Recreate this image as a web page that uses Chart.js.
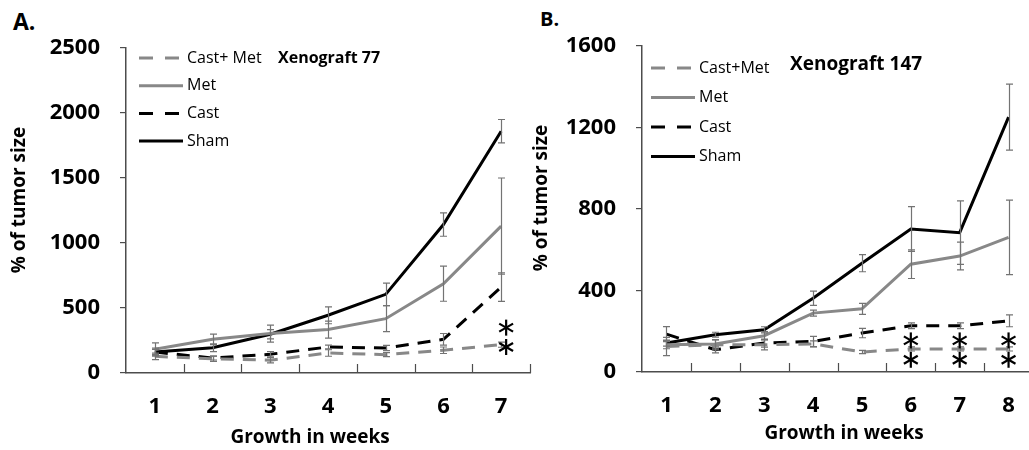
<!DOCTYPE html>
<html lang="en">
<head>
<meta charset="UTF-8">
<title>Xenograft growth</title>
<script src="https://cdn.jsdelivr.net/npm/chart.js@4.4.0/dist/chart.umd.min.js"></script>
<style>
    body { margin: 0; width: 1029px; height: 450px; overflow: hidden; background: #fff; position: relative; font-family: "Open Sans", sans-serif; }
    .panel { position: absolute; top: 0; height: 450px; }
    #boxA { left: 0; width: 540px; }
    #boxB { left: 520px; width: 530px; }
    .letter { position: absolute; font-weight: bold; font-family: "Open Sans", sans-serif; line-height: 1.2; }
</style>
</head>
<body>
<div class="letter" style="left:13px; top:8px; font-size:23px">A.</div>
<div class="letter" style="left:540px; top:7px; font-size:20px">B.</div>
<div id="boxA" class="panel"><canvas id="chartA"></canvas></div>
<div id="boxB" class="panel"><canvas id="chartB"></canvas></div>

<script>
// Xenograft 77 (panel A)
var weeksA = ['1', '2', '3', '4', '5', '6', '7'];
var castMetA = [128, 110, 98, 154, 141, 175, 218];
var castMetErrA = [25, 20, 20, 25, 15, 25, 20];
var metA = [182, 259, 303, 334, 418, 687, 1130];
var metErrA = [50, 40, 65, 65, 100, 135, 370];
var castA = [161, 115, 144, 200, 192, 259, 661];
var castErrA = [20, 15, 20, 15, 20, 45, 110];
var shamA = [161, 195, 298, 444, 605, 1142, 1860];
var shamErrA = [30, 30, 35, 65, 87, 90, 90];
var starsA = [{ week: 6, values: [349, 200] }];

// Xenograft 147 (panel B)
var weeksB = ['1', '2', '3', '4', '5', '6', '7', '8'];
var castMetB = [125, 134, 134, 138, 98, 113, 113, 113];
var castMetErrB = [45, 25, 25, 15, 8, 10, 10, 10];
var metB = [134, 137, 178, 289, 310, 529, 569, 661];
var metErrB = [20, 20, 20, 15, 27, 70, 68, 183];
var castB = [186, 109, 142, 150, 191, 227, 227, 251];
var castErrB = [37, 15, 20, 25, 23, 14, 14, 29];
var shamB = [142, 183, 207, 362, 534, 702, 684, 1251];
var shamErrB = [15, 12, 15, 35, 42, 110, 156, 162];
var starsB = [{ week: 5, values: [155, 60] }, { week: 6, values: [155, 60] }, { week: 7, values: [155, 60] }];

var GREY = '#888888';
var AXIS = '#4d4d4d';
var FONT = '"Open Sans", sans-serif';

// error bars on top of the lines
var errorBars = {
    id: 'errorBars',
    afterDatasetsDraw: function(chart) {
        var ctx = chart.ctx, ys = chart.scales.y;
        ctx.save();
        ctx.strokeStyle = '#737373';
        ctx.lineWidth = 1.2;
        ctx.setLineDash([]);
        chart.data.datasets.forEach(function(ds, i) {
            var meta = chart.getDatasetMeta(i);
            meta.data.forEach(function(pt, j) {
                var e = ds.errors[j];
                var top = ys.getPixelForValue(ds.data[j] + e);
                var bot = ys.getPixelForValue(ds.data[j] - e);
                var x = Math.round(pt.x) + 0.5;
                ctx.beginPath();
                ctx.moveTo(x, top); ctx.lineTo(x, bot);
                ctx.moveTo(x - 3.5, top); ctx.lineTo(x + 3.5, top);
                ctx.moveTo(x - 3.5, bot); ctx.lineTo(x + 3.5, bot);
                ctx.stroke();
            });
        });
        ctx.restore();
    }
};

// inward x ticks, axis titles, in-plot legend, title and asterisks
var decor = {
    id: 'decor',
    afterDraw: function(chart, args, opts) {
        var ctx = chart.ctx, area = chart.chartArea, xs = chart.scales.x, ys = chart.scales.y;
        ctx.save();
        ctx.strokeStyle = AXIS;
        ctx.lineWidth = 1.2;
        for (var k = 0; k < chart.data.labels.length; k++) {
            var px = Math.round(xs.getPixelForValue(k + 0.5)) + 0.5;
            ctx.beginPath();
            ctx.moveTo(px, area.bottom);
            ctx.lineTo(px, area.bottom - 9);
            ctx.stroke();
        }

        // axis titles
        ctx.fillStyle = '#000';
        ctx.font = 'bold 19px ' + FONT;
        ctx.textAlign = 'center';
        ctx.textBaseline = 'middle';
        ctx.fillText('Growth in weeks', opts.xTitle[0], opts.xTitle[1]);
        ctx.save();
        ctx.translate(opts.yTitle[0], opts.yTitle[1]);
        ctx.rotate(-Math.PI / 2);
        ctx.fillText('% of tumor size', 0, 0);
        ctx.restore();

        ctx.textAlign = 'left';
        chart.data.datasets.forEach(function(ds, i) {
            var ly = opts.legendY + i * opts.rowGap;
            ctx.strokeStyle = ds.borderColor;
            ctx.lineWidth = ds.borderWidth;
            ctx.setLineDash(ds.borderDash ? [14, 12] : []);
            ctx.beginPath();
            ctx.moveTo(opts.legendX, ly);
            ctx.lineTo(opts.legendX + 44, ly);
            ctx.stroke();
            ctx.fillStyle = '#000';
            ctx.font = '16px ' + FONT;
            ctx.fillText(ds.label, opts.legendX + 48, ly);
        });
        ctx.setLineDash([]);

        ctx.font = 'bold ' + opts.titleSize + 'px ' + FONT;
        ctx.fillText(opts.title, opts.titleX, opts.titleY);

        ctx.strokeStyle = '#000';
        ctx.lineWidth = 2.2;
        opts.stars.forEach(function(s) {
            var cx = xs.getPixelForValue(s.week) + opts.starShift;
            s.values.forEach(function(v) {
                var cy = ys.getPixelForValue(v);
                for (var a = 0; a < 3; a++) {
                    var ang = Math.PI / 2 + a * Math.PI / 3;
                    ctx.beginPath();
                    ctx.moveTo(cx - 8 * Math.cos(ang), cy - 8 * Math.sin(ang));
                    ctx.lineTo(cx + 8 * Math.cos(ang), cy + 8 * Math.sin(ang));
                    ctx.stroke();
                }
            });
        });
        ctx.restore();
    }
};

function line(label, data, errors, color, dashed) {
    return {
        label: label,
        data: data,
        errors: errors,
        borderColor: color,
        backgroundColor: color,
        borderWidth: 3,
        borderDash: dashed ? [13, 9] : undefined,
        pointRadius: 0,
        tension: 0,
        fill: false
    };
}

function makeChart(id, labels, datasets, yMax, yStep, box, deco) {
    return new Chart(document.getElementById(id), {
        type: 'line',
        data: { labels: labels, datasets: datasets },
        options: {
            responsive: true,
            maintainAspectRatio: false,
            animation: false,
            layout: { padding: { left: 0, top: box.top, right: box.right, bottom: 0 } },
            plugins: { legend: { display: false }, tooltip: { enabled: false }, decor: deco },
            scales: {
                x: {
                    offset: true,
                    afterFit: function(s) { s.height = box.xHeight; },
                    grid: { offset: true, drawOnChartArea: false, drawTicks: false },
                    border: { color: AXIS, width: 1.5 },
                    ticks: { color: '#000', padding: 21, font: { family: FONT, size: 22, weight: 'bold' } }
                },
                y: {
                    min: 0,
                    max: yMax,
                    afterFit: function(s) { s.width = box.yWidth; },
                    grid: { drawOnChartArea: false, tickLength: 6, color: AXIS, lineWidth: 1.2 },
                    border: { color: AXIS, width: 1.5 },
                    ticks: { stepSize: yStep, color: '#000', padding: 20, callback: function(v) { return String(v); }, font: { family: FONT, size: 22, weight: 'bold' } }
                }
            }
        },
        plugins: [errorBars, decor]
    });
}

makeChart('chartA', weeksA, [
    line('Cast+ Met', castMetA, castMetErrA, GREY, true),
    line('Met', metA, metErrA, GREY, false),
    line('Cast', castA, castErrA, '#000', true),
    line('Sham', shamA, shamErrA, '#000', false)
], 2500, 500,
    { top: 48, right: 10, xHeight: 77, yWidth: 126 },
    { legendX: 139, legendY: 58, rowGap: 27.7, title: 'Xenograft 77', titleSize: 16, titleX: 278, titleY: 58,
      xTitle: [310, 438], yTitle: [20, 200], stars: starsA, starShift: 5 });

makeChart('chartB', weeksB, [
    line('Cast+Met', castMetB, castMetErrB, GREY, true),
    line('Met', metB, metErrB, GREY, false),
    line('Cast', castB, castErrB, '#000', true),
    line('Sham', shamB, shamErrB, '#000', false)
], 1600, 400,
    { top: 46, right: 17, xHeight: 78, yWidth: 122 },
    { legendX: 131, legendY: 68, rowGap: 29.5, title: 'Xenograft 147', titleSize: 19, titleX: 270, titleY: 65,
      xTitle: [324, 434], yTitle: [21.5, 198], stars: starsB, starShift: 0 });
</script>
</body>
</html>
